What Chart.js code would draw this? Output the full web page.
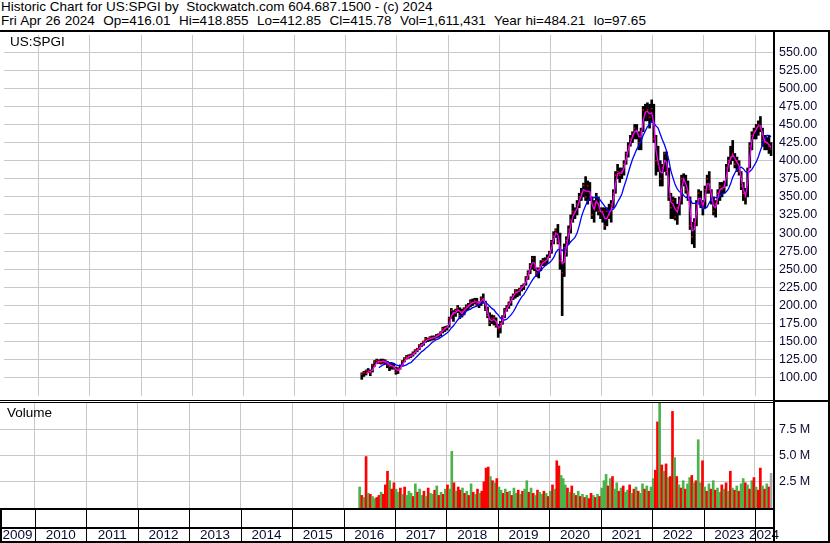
<!DOCTYPE html>
<html lang="en">
<head>
<meta charset="UTF-8">
<title>Historic Chart for US:SPGI</title>
<script src="https://cdn.jsdelivr.net/npm/chart.js@4.4.1/dist/chart.umd.min.js"></script>
<style>
  body { margin: 0; background: #fff; }
  #wrap { position: relative; width: 830px; height: 543px; overflow: hidden; font-family: "Liberation Sans", Arial, sans-serif; }
  canvas { position: absolute; left: 0; }
  .ln { position: absolute; background: #000; }
  .txt { position: absolute; font-size: 13.5px; line-height: 14px; color: #000; white-space: pre; }
</style>
</head>
<body>
<div id="wrap">
  <canvas id="price" width="830" height="369" style="top:31px"></canvas>
  <canvas id="vol" width="830" height="140" style="top:403px"></canvas>

  <div class="txt" style="left:1px;top:0px">Historic Chart for US:SPGI by  Stockwatch.com 604.687.1500 - (c) 2024</div>
  <div class="txt" style="left:1px;top:14px;word-spacing:0.5px">Fri Apr 26 2024  Op=416.01  Hi=418.855  Lo=412.85  Cl=415.78  Vol=1,611,431  Year hi=484.21  lo=97.65</div>
  <div class="txt" style="left:10px;top:35px">US:SPGI</div>
  <div class="txt" style="left:7px;top:406px">Volume</div>

  <div class="ln" style="left:0;top:30px;width:830px;height:2px"></div>
  <div class="ln" style="left:0;top:400px;width:775px;height:1px"></div>
  <div class="ln" style="left:0;top:402px;width:775px;height:1px"></div>
  <div class="ln" style="left:775px;top:400px;width:55px;height:2px"></div>
  <div class="ln" style="left:0;top:508px;width:775px;height:2px"></div>
  <div class="ln" style="left:0;top:527px;width:775px;height:2px"></div>
  <div class="ln" style="left:0;top:541px;width:830px;height:2px"></div>
  <div class="ln" style="left:773px;top:30px;width:2px;height:513px"></div>
  <div class="ln" style="left:828px;top:30px;width:2px;height:513px"></div>
  <div class="ln" style="left:0;top:508px;width:2px;height:35px"></div>
</div>
<script>
// half-month periods, first one = second half of Apr 2016
const periodStart = 2016.3125;
const periodStep = 1 / 24;

const lows = [
  98,102,104,107,103,108,116,120,120,119,120,119,114,110,112,112,105,
  106,112,117,122,126,127,128,130,133,136,139,143,145,149,150,151,152,153,155,156,158,162,164,166,
  170,182,178,185,190,182,184,187,193,194,198,200,202,200,197,200,203,193,183,172,175,173,170,156,
  162,174,183,192,196,200,208,210,212,214,220,222,228,236,244,250,248,240,238,248,255,255,258,266,
  272,285,294,285,250,186,240,268,285,300,315,320,325,335,345,350,345,340,345,320,315,330,325,320,
  315,305,310,320,315,335,355,375,370,375,380,395,405,420,425,430,430,415,415,440,455,455,445,455,
  425,380,385,365,365,385,380,345,320,320,318,312,325,340,365,355,345,305,285,280,310,340,335,325,
  335,355,355,340,325,322,340,345,350,355,365,385,395,400,390,385,380,360,345,340,350,390,415,430,
  430,435,440,420,415,415,410,407
];
const highs = [
  107,109,111,113,111,119,124,126,125,126,126,125,123,120,120,120,115,
  114,118,124,128,131,132,133,136,139,141,146,148,151,156,155,157,158,158,160,161,164,170,171,172,
  184,196,193,195,200,197,195,197,201,203,208,209,210,210,205,212,216,206,198,190,187,186,183,174,
  178,186,196,200,205,212,216,222,222,224,228,230,240,248,258,268,268,252,252,262,265,266,270,275,
  290,302,306,312,300,260,285,295,310,325,340,335,345,355,362,369,378,372,370,350,345,355,350,335,
  335,335,335,340,345,360,385,395,390,390,400,412,425,435,440,450,450,440,445,475,478,480,478,484,
  478,435,420,400,395,412,412,390,355,350,348,340,350,380,382,380,372,350,315,320,345,360,358,345,
  365,380,385,360,350,345,360,370,370,372,395,405,420,428,410,405,400,385,370,362,390,425,440,445,
  450,455,461,445,435,432,435,425
];
const closes = [
  105,107,110,110,107,118,122,124,122,121,124,122,118,116,117,114,108,
  113,117,123,127,129,130,131,134,138,140,145,146,150,154,153,156,155,156,158,160,163,168,169,170,
  182,193,188,193,197,186,192,195,199,200,205,204,207,202,202,210,208,195,186,176,182,183,172,168,
  175,184,194,198,203,210,214,220,218,222,226,228,238,246,255,265,252,245,250,258,262,260,266,273,
  288,296,304,288,262,245,280,290,305,318,330,328,340,350,355,366,350,365,350,325,340,350,330,330,
  330,310,330,325,340,355,380,385,380,385,395,410,420,430,435,445,440,425,440,470,465,470,460,472,
  430,400,395,375,390,410,385,350,335,345,322,335,345,375,375,360,355,310,295,315,340,355,340,335,
  360,375,360,345,330,340,355,365,360,365,390,400,405,410,395,400,385,365,355,350,385,420,435,440,
  445,450,445,428,425,425,420,416
];
// short moving average (magenta)
const maShort = [
  null,null,106,108,109,111,116,121,123,122.5,122.5,123,121,118,116.5,116,112,
  110,113,118,123,127,129,130,132,135,138,141,145,147,151,153,154,155,155.5,157,159,161,165,168,169.5,
  174,185,190,190,194,192,189,193,196,199,202,204,205,205,203,206,209,202,191,181,179,181,178,170,
  170,178,188,195,200,206,212,217,219,220,224,227,232,241,250,259,259,249,248,254,259,261,263,269,
  279,291,300,298,280,258,260,282,297,310,323,329,334,344,352,360,358,358,357,340,333,344,340,330,
  328,320,320,327,332,347,367,382,383,383,390,402,415,425,433,440,442,433,433,455,467,468,465,466,
  452,415,398,385,383,400,398,368,343,340,333,329,340,360,375,368,358,333,303,305,328,348,348,338,
  348,368,368,353,338,335,348,360,362,363,378,395,403,408,403,398,393,375,360,352,368,403,428,438,
  443,448,448,437,427,425,422,418
];
// long moving average (blue)
const maLong = [
  null,null,null,null,null,null,null,null,114,116,118,119,120,121,121,120,118,
  117,117,116,117,118,120,121,124,127,130,133,136,138,141,143,146,149,151,153,154,156,158,160,162,
  165,169,172,176,180,183,186,188,192,194,195,197,198,199,201,203,204,204,202,199,196,194,190,187,
  183,180,180,181,184,187,191,196,202,207,212,215,220,225,230,235,239,242,245,249,252,255,257,259,
  262,266,273,277,278,276,278,281,284,288,291,294,300,310,322,331,338,345,348,348,349,350,348,345,
  341,337,333,330,332,333,337,343,348,354,364,373,383,393,402,409,416,421,427,435,441,447,450,454,
  452,448,445,437,429,422,413,401,386,376,367,361,357,356,352,349,350,347,341,341,341,342,338,334,
  334,336,342,347,349,349,349,352,354,355,357,361,368,377,383,388,390,391,389,385,383,385,388,393,
  398,405,414,422,430,435,435,433
];
// volume in millions
const volume = [
  2.0,1.2,1.0,4.9,1.4,1.3,1.1,0.9,1.0,1.2,1.5,1.3,2.2,3.5,2.6,1.8,2.4,
  1.8,1.5,1.9,1.3,2.0,1.2,1.6,1.4,1.1,2.3,1.5,1.8,1.2,1.6,1.1,1.9,1.4,1.3,1.7,2.1,1.2,1.5,1.3,1.8,
  2.2,1.8,5.4,2.4,1.6,2.0,1.7,1.9,1.4,1.6,1.2,2.3,1.5,1.3,1.8,1.4,1.6,2.5,3.8,3.9,3.0,2.6,2.4,2.8,
  2.0,1.7,1.4,1.8,1.5,1.6,1.2,1.9,1.4,1.7,1.3,1.6,1.8,2.6,1.5,1.9,1.4,1.2,1.7,1.5,1.3,1.6,1.4,1.1,
  1.6,2.2,1.8,4.5,4.0,3.1,2.8,2.2,1.9,1.5,2.1,1.4,1.2,1.6,1.1,1.3,1.0,1.2,0.9,1.4,1.2,1.0,1.3,1.1,
  1.9,2.6,3.2,2.1,2.8,3.0,1.8,2.4,1.6,1.9,2.1,1.5,1.7,2.2,1.4,1.8,2.0,1.6,1.4,2.3,1.8,2.1,1.6,2.0,
  2.8,3.6,8.2,10.0,4.1,3.5,4.2,2.9,3.0,9.2,4.8,3.0,2.2,1.9,2.6,1.8,2.3,2.9,3.1,2.4,2.6,6.5,2.4,4.5,
  2.0,1.6,2.3,1.8,2.6,1.7,1.9,1.5,2.2,1.8,2.4,1.6,3.5,1.9,1.7,2.1,1.6,2.3,2.8,2.4,2.2,1.8,2.6,2.9,
  2.0,1.7,3.8,2.1,1.8,2.3,2.0,3.3
];
// g = up, r = down, x = current (grey)
const volDir = [
  'grgrgrggrrgrrrgrr',
  'ggrgrgggrgrggrgrggrgrgrg',
  'rggrgrrgrgrgrgrgrrrrgrgr',
  'ggrgrgrggrgrggrgrgrggrgr',
  'grgrrgggrgrgrgrgrgrrgrgr',
  'gggrgrggrgrggrgrgrggrgrg',
  'grrgrgrgrrgrgrgrggrgrggr',
  'grgrgrggrgrgrgrgrggrgrgr',
  'grrgrgrx'
];

const yearLabels = [2009,2010,2011,2012,2013,2014,2015,2016,2017,2018,2019,2020,2021,2022,2023,2024];
const gridYears = [2010,2011,2012,2013,2014,2015,2016,2017,2018,2019,2020,2021,2022,2023,2024];
const priceTicks = [100,125,150,175,200,225,250,275,300,325,350,375,400,425,450,475,500,525,550];
const volTicks = [2.5, 5, 7.5];

const xMin = 2009.3195, xMax = 2024.35;
const gridColor = '#c8c8c8';
const labelColor = '#0a0a30';
Chart.defaults.font.family = '"Liberation Sans", Arial, sans-serif';

const xs = lows.map((_, i) => periodStart + i * periodStep);
const bars = xs.map((x, i) => ({ x: x, y: [lows[i], highs[i]] }));
const closePts = xs.map((x, i) => ({ x: x, y: closes[i] }));
const shortPts = xs.map((x, i) => ({ x: x, y: maShort[i] }));
const longPts = xs.map((x, i) => ({ x: x, y: maLong[i] }));
const volPts = xs.map((x, i) => ({ x: x, y: volume[i] }));
const volColors = volDir.join('').split('').map(c => c === 'g' ? '#4cb34c' : (c === 'r' ? '#ff0000' : '#a8a8a8'));

function fixSize(w, h) {
  return function (s) {
    if (w !== null) s.width = w;
    if (h !== null) s.height = h;
    s.paddingLeft = 0; s.paddingRight = 0; s.paddingTop = 0; s.paddingBottom = 0;
  };
}

function yearGridAxis() {
  return {
    type: 'linear', min: xMin, max: xMax, offset: false,
    afterBuildTicks: s => { s.ticks = gridYears.map(v => ({ value: v })); },
    ticks: { display: false },
    grid: { color: gridColor, drawTicks: false, offset: false },
    border: { display: false },
    afterFit: fixSize(null, 0)
  };
}

const baseOptions = {
  responsive: false,
  animation: false,
  events: [],
  layout: { padding: 0 },
  plugins: { legend: { display: false }, tooltip: { enabled: false } }
};

new Chart(document.getElementById('price'), {
  data: {
    datasets: [
      { type: 'bar', data: bars, backgroundColor: '#000', barThickness: 2, order: 4 },
      { type: 'line', data: closePts, showLine: false, pointStyle: 'rect', pointRadius: 1,
        backgroundColor: '#ff0000', borderWidth: 0, order: 3 },
      { type: 'line', data: longPts, borderColor: '#0000ff', borderWidth: 1.3, pointRadius: 0, order: 2 },
      { type: 'line', data: shortPts, borderColor: '#ff00ff', borderWidth: 1.3, pointRadius: 0, order: 1 }
    ]
  },
  options: Object.assign({}, baseOptions, {
    scales: {
      x: yearGridAxis(),
      y: {
        position: 'right', min: 75, max: 573.6,
        afterBuildTicks: s => { s.ticks = priceTicks.map(v => ({ value: v })); },
        ticks: { callback: v => v.toFixed(2), color: labelColor, font: { size: 12.5 }, padding: 6 },
        grid: { color: gridColor, drawTicks: false },
        border: { display: false },
        afterFit: fixSize(57, null)
      }
    }
  })
});

const bottomCells = {
  id: 'bottomCells',
  afterDraw(chart) {
    const ctx = chart.ctx;
    const sx = chart.scales.x;
    const a = chart.chartArea;
    ctx.save();
    ctx.fillStyle = '#000';
    gridYears.forEach(yr => {
      const px = Math.round(sx.getPixelForValue(yr));
      ctx.fillRect(px, a.bottom, 1, chart.height - a.bottom);
    });
    ctx.restore();
  }
};

new Chart(document.getElementById('vol'), {
  data: {
    datasets: [
      { type: 'bar', data: volPts, backgroundColor: volColors, barThickness: 2 }
    ]
  },
  options: Object.assign({}, baseOptions, {
    scales: {
      x: yearGridAxis(),
      xLab: {
        type: 'linear', position: 'bottom', min: xMin, max: xMax, offset: false,
        afterBuildTicks: s => {
          s.ticks = yearLabels.map(yr => {
            const lo = Math.max(yr, xMin), hi = Math.min(yr + 1, xMax);
            return { value: (lo + hi) / 2 };
          });
        },
        ticks: { callback: (v, i) => String(yearLabels[i]), autoSkip: false, maxRotation: 0,
                 color: labelColor, font: { size: 13.5 }, padding: 0 },
        grid: { color: 'rgba(0,0,0,0)', drawOnChartArea: false, drawTicks: true, tickLength: 19 },
        border: { display: false },
        afterFit: fixSize(null, 35)
      },
      y: {
        position: 'right', min: 0, max: 10,
        afterBuildTicks: s => { s.ticks = volTicks.map(v => ({ value: v })); },
        ticks: { callback: v => v.toFixed(1) + ' M', color: labelColor, font: { size: 12.5 }, padding: 6 },
        grid: { color: gridColor, drawTicks: false },
        border: { display: false },
        afterFit: fixSize(57, null)
      }
    }
  }),
  plugins: [bottomCells]
});
</script>
</body>
</html>
